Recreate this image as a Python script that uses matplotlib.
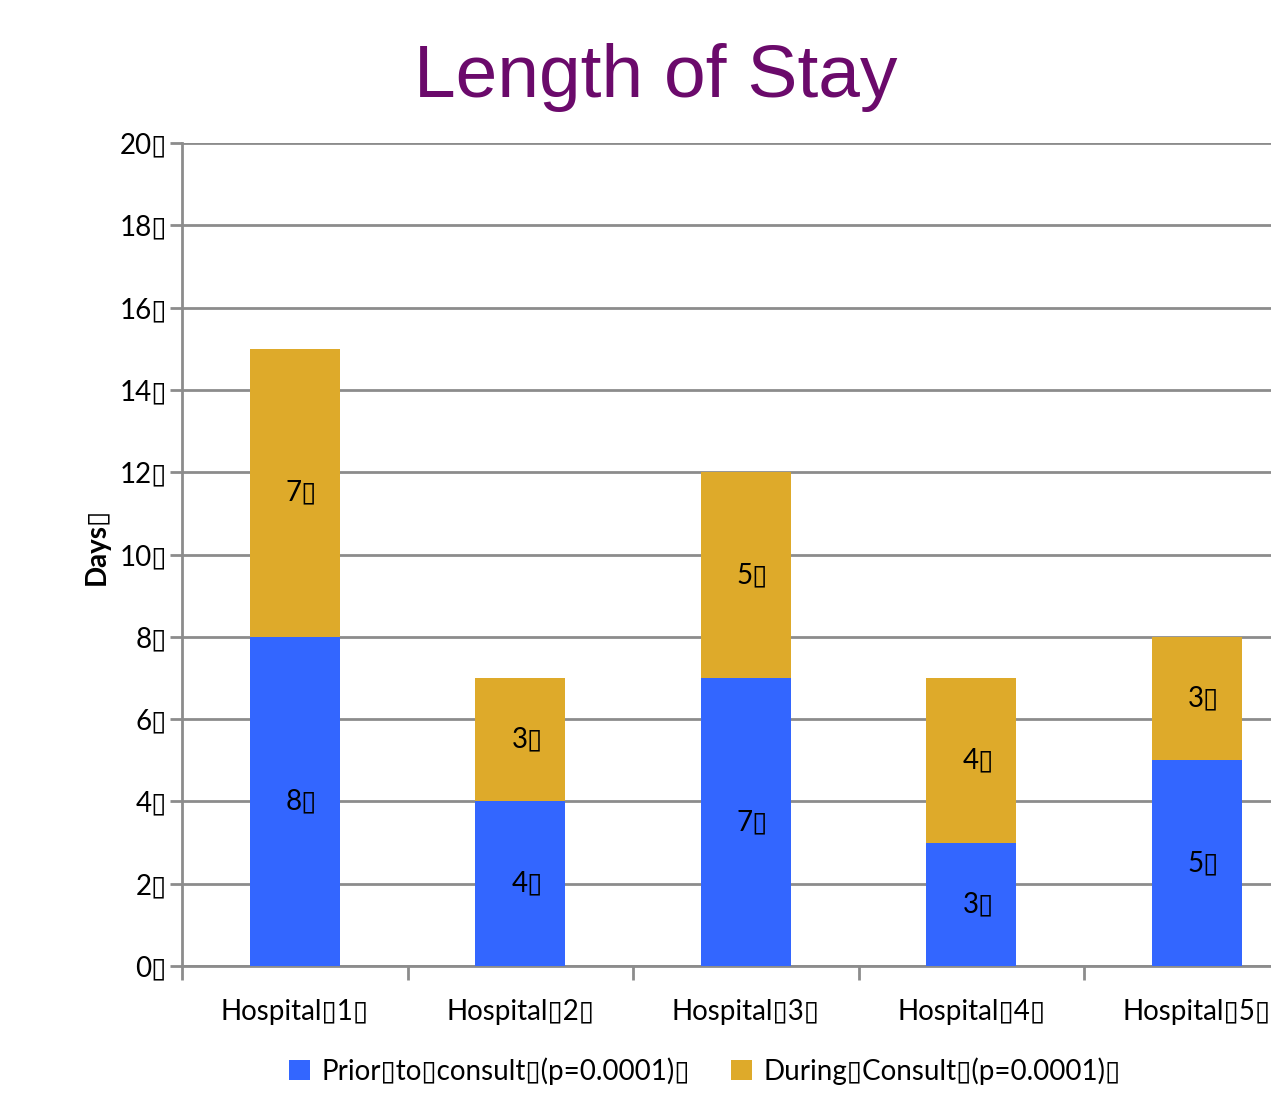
import matplotlib
matplotlib.use("Agg")
import matplotlib.pyplot as plt
import numpy as np

B = "\u25AF"  # box glyph as shown in the reference

categories = ["Hospital" + B + "1" + B, "Hospital" + B + "2" + B, "Hospital" + B + "3" + B,
              "Hospital" + B + "4" + B, "Hospital" + B + "5" + B]
prior = [8, 4, 7, 3, 5]
during = [7, 3, 5, 4, 3]
series_names = ["Prior" + B + "to" + B + "consult" + B + "(p=0.0001)" + B,
                "During" + B + "Consult" + B + "(p=0.0001)" + B]
yticks = [0, 2, 4, 6, 8, 10, 12, 14, 16, 18, 20]

FONT = ["Lato", "DejaVu Sans"]
plt.rcParams["font.family"] = FONT

blue = "#3366FF"
gold = "#DEAA2A"
grid_c = "#8C8C8C"
FS = 20

fig = plt.figure(figsize=(12.71, 10.99), dpi=100)
W, H = 1271, 1099
ax = fig.add_axes([182 / W, 1 - 966 / H, 1127.5 / W, (966 - 143) / H])

x = np.arange(len(categories))
bw = 0.40
ax.bar(x, prior, bw, color=blue, zorder=3, label=series_names[0])
ax.bar(x, during, bw, bottom=prior, color=gold, zorder=3, label=series_names[1])

for i in range(len(x)):
    ax.text(x[i] + 0.03, prior[i] / 2, f"{prior[i]}{B}", ha="center", va="center",
            fontsize=FS, color="black", zorder=4)
    ax.text(x[i] + 0.03, prior[i] + during[i] / 2, f"{during[i]}{B}", ha="center", va="center",
            fontsize=FS, color="black", zorder=4)

ax.set_xlim(-0.5, len(x) - 0.5)
ax.set_ylim(0, 20)
ax.set_yticks(yticks)
ax.set_yticklabels([f"{v}{B}" for v in yticks], fontsize=FS)
ax.yaxis.grid(True, color=grid_c, linewidth=2, zorder=0)
ax.set_axisbelow(True)

ax.set_xticks(x)
ax.set_xticklabels(categories, fontsize=FS)
ax.set_xticks(np.arange(len(x) + 1) - 0.5, minor=True)
ax.tick_params(axis="x", which="major", length=0, pad=24)
ax.tick_params(axis="x", which="minor", length=10, width=2, color=grid_c, direction="out")
ax.tick_params(axis="y", length=9, width=2, color=grid_c, pad=2)

for s in ["top", "right"]:
    ax.spines[s].set_visible(False)
for s in ["left", "bottom"]:
    ax.spines[s].set_color(grid_c)
    ax.spines[s].set_linewidth(2)

ax.set_ylabel("Days" + B, fontsize=20, fontweight="bold")
ax.yaxis.set_label_coords(-0.064, 0.51)

fig.text(656 / W, 1 - 77 / H, "Length of Stay", ha="center", va="center",
         fontsize=54, color="#6B0A6B", family=["Liberation Sans", "DejaVu Sans"])

handles, labels = ax.get_legend_handles_labels()
fig.legend(handles, labels, loc="center", bbox_to_anchor=(705 / W, 1 - 1071 / H),
           ncol=2, frameon=False, fontsize=FS, handlelength=0.75, handleheight=0.75,
           handletextpad=0.4, columnspacing=1.5)

fig.savefig("out.png", dpi=100)
